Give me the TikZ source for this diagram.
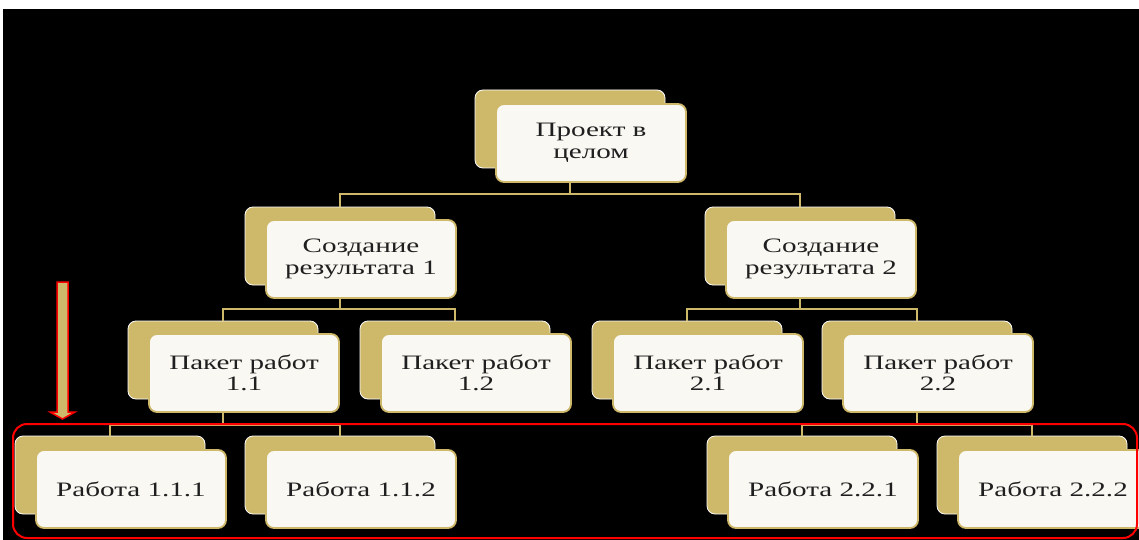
\documentclass[tikz,border=0pt]{standalone}
\usepackage{fontspec}
\setmainfont{Liberation Serif}
\newfontfamily\boxfont[FakeStretch=1.42]{Liberation Serif}
\usepackage{tikz}
\definecolor{wbsgold}{RGB}{206,184,106}
\definecolor{wbscream}{RGB}{250,248,242}
\tikzset{
    box_back/.style = {rectangle, rounded corners=8pt, fill=wbsgold, draw=white, line width=0.8pt, minimum width=190pt, minimum height=78pt, inner sep=0pt},
    box_front/.style = {box_back, fill=wbscream, draw=wbsgold, line width=1.8pt, align=center, text=black!88, font=\boxfont\fontsize{20.5}{21.5}\selectfont},
    conn/.style = {draw=wbsgold, line width=2pt},
    frame_red/.style = {draw=red, line width=2pt, rounded corners=14pt},
    arrow_red/.style = {draw=red, line width=1.5pt, fill=wbsgold, line join=miter}
}
\begin{document}
\begin{tikzpicture}[x=1pt, y=-1pt]
    \useasboundingbox (0,0) rectangle (1139,540);
    \fill[white] (0,0) rectangle (1139,540);
    \fill[black] (3,9) rectangle (1139,540);

    % back boxes
    \node [box_back] (top)  at (570,129) {};
    \node [box_back] (r1)   at (340,246) {};
    \node [box_back] (r2)   at (800,246) {};
    \node [box_back] (p11)  at (223,360) {};
    \node [box_back] (p12)  at (455,360) {};
    \node [box_back] (p21)  at (687,360) {};
    \node [box_back] (p22)  at (917,360) {};
    \node [box_back] (w111) at (110,475) {};
    \node [box_back] (w112) at (340,475) {};
    \node [box_back] (w221) at (802,475) {};
    \node [box_back] (w222) at (1032,475) {};

    % connectors
    \draw[conn] (top.south) -- ++(0,26) -| (r1.north);
    \draw[conn] (top.south) -- ++(0,26) -| (r2.north);
    \draw[conn] (r1.south) -- ++(0,24) -| (p11.north);
    \draw[conn] (r1.south) -- ++(0,24) -| (p12.north);
    \draw[conn] (r2.south) -- ++(0,24) -| (p21.north);
    \draw[conn] (r2.south) -- ++(0,24) -| (p22.north);
    \draw[conn] (p11.south) -- ++(0,26) -| (w111.north);
    \draw[conn] (p11.south) -- ++(0,26) -| (w112.north);
    \draw[conn] (p22.south) -- ++(0,26) -| (w221.north);
    \draw[conn] (p22.south) -- ++(0,26) -| (w222.north);

    % front boxes
    \node [box_front] (top_f)  at ([shift={(21,14)}]top)  {Проект в\\целом};
    \node [box_front] (r1_f)   at ([shift={(21,13)}]r1)   {Создание\\результата 1};
    \node [box_front] (r2_f)   at ([shift={(21,13)}]r2)   {Создание\\результата 2};
    \node [box_front] (p11_f)  at ([shift={(21,13)}]p11)  {Пакет работ\\1.1};
    \node [box_front] (p12_f)  at ([shift={(21,13)}]p12)  {Пакет работ\\1.2};
    \node [box_front] (p21_f)  at ([shift={(21,13)}]p21)  {Пакет работ\\2.1};
    \node [box_front] (p22_f)  at ([shift={(21,13)}]p22)  {Пакет работ\\2.2};
    \node [box_front] (w111_f) at ([shift={(21,14)}]w111) {Работа 1.1.1};
    \node [box_front] (w112_f) at ([shift={(21,14)}]w112) {Работа 1.1.2};
    \node [box_front] (w221_f) at ([shift={(21,14)}]w221) {Работа 2.2.1};
    \node [box_front] (w222_f) at ([shift={(21,14)}]w222) {Работа 2.2.2};

    % highlighted level
    \draw[frame_red] (13,424) rectangle (1137,538);
    \draw[arrow_red] (57,282) -- (68,282) -- (68,412) -- (75,412) -- (62.5,419)
        -- (50,412) -- (57,412) -- cycle;
\end{tikzpicture}
\end{document}
